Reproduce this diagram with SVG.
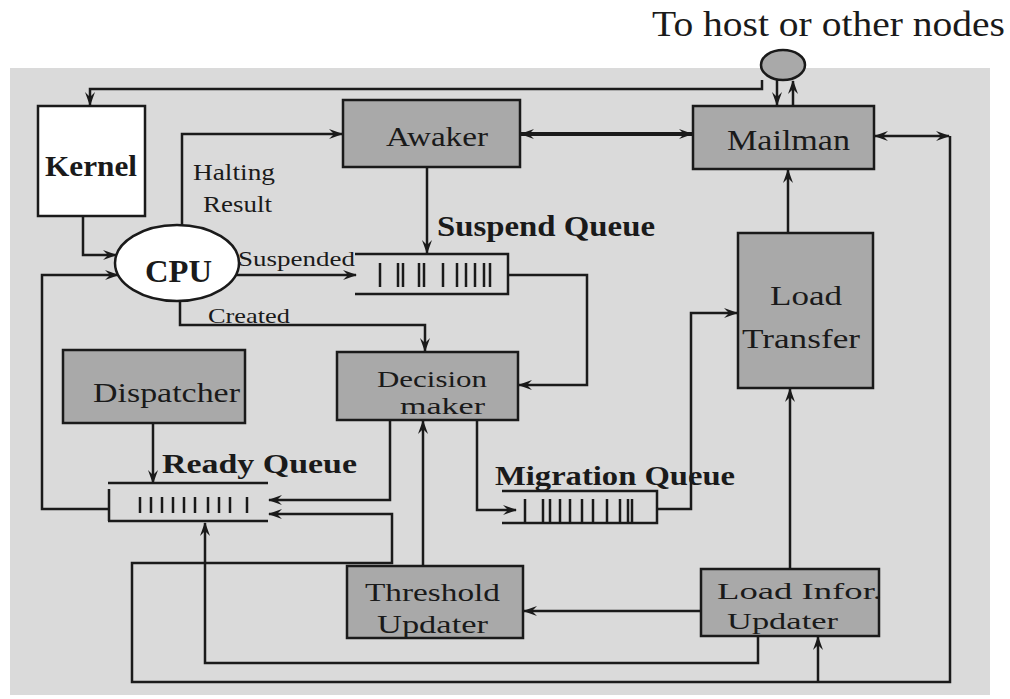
<svg xmlns="http://www.w3.org/2000/svg" width="1010" height="699" viewBox="0 0 1010 699">
<style>
text{font-family:"Liberation Serif","Times New Roman",serif;fill:#1a1a1a}
.lbl{font-size:28px}
.b{font-weight:bold}
.box{fill:#a9a9a9;stroke:#1a1a1a;stroke-width:2.5}
.wbox{fill:#ffffff;stroke:#1a1a1a;stroke-width:2.5}
.ln{fill:none;stroke:#1a1a1a;stroke-width:2.5}
.thick{fill:none;stroke:#1a1a1a;stroke-width:4}
.bar{stroke:#1a1a1a;stroke-width:2.5}
</style>
<defs>
<marker id="ah" viewBox="0 0 14 10" refX="13" refY="5" markerUnits="userSpaceOnUse" markerWidth="14" markerHeight="10" orient="auto-start-reverse">
<path d="M0,0 L14,5 L0,10 L5,5 Z" fill="#1a1a1a"/>
</marker>
</defs>
<rect x="0" y="0" width="1010" height="699" fill="#ffffff"/>
<rect x="10" y="68" width="980" height="627" fill="#dadada"/>
<text x="652" y="36" font-size="36" textLength="353" lengthAdjust="spacingAndGlyphs">To host or other nodes</text>

<g id="connectors">
<path class="ln" d="M762,80 V89 H90 V105" marker-end="url(#ah)"/>
<path class="ln" d="M777,80 V105" marker-end="url(#ah)"/>
<path class="ln" d="M793,106 V81" marker-end="url(#ah)"/>
<path class="thick" d="M521,134 H692" marker-start="url(#ah)" marker-end="url(#ah)"/>
<path class="ln" d="M875,136 H949" marker-start="url(#ah)" marker-end="url(#ah)"/>
<path class="ln" d="M950,136 V682 H132 V563 H392 V514 H269" marker-end="url(#ah)"/>
<path class="ln" d="M818,682 V637" marker-end="url(#ah)"/>
<path class="ln" d="M182,225 V134 H342" marker-end="url(#ah)"/>
<path class="ln" d="M83,216 V255 H116" marker-end="url(#ah)"/>
<path class="ln" d="M110,509 H42 V275 H118" marker-end="url(#ah)"/>
<path class="ln" d="M236,275 H356" marker-end="url(#ah)"/>
<path class="ln" d="M427,167 V253" marker-end="url(#ah)"/>
<path class="ln" d="M508,275 H587 V385 H519" marker-end="url(#ah)"/>
<path class="ln" d="M180,301 V325 H425 V351" marker-end="url(#ah)"/>
<path class="ln" d="M153,423 V483" marker-end="url(#ah)"/>
<path class="ln" d="M390,420 V500 H269" marker-end="url(#ah)"/>
<path class="ln" d="M477,420 V510 H516" marker-end="url(#ah)"/>
<path class="ln" d="M657,509 H691 V313 H737" marker-end="url(#ah)"/>
<path class="ln" d="M788,233 V170" marker-end="url(#ah)"/>
<path class="ln" d="M790,569 V389" marker-end="url(#ah)"/>
<path class="ln" d="M701,611 H524" marker-end="url(#ah)"/>
<path class="ln" d="M423,566 V421" marker-end="url(#ah)"/>
<path class="ln" d="M758,636 V663 H205 V523" marker-end="url(#ah)"/>
</g>

<g id="net">
<ellipse cx="783" cy="65" rx="22" ry="15" class="box"/>
</g>

<g id="kernel">
<rect x="38" y="106" width="107" height="110" class="wbox"/>
<text x="45" y="176" font-size="30" class="b" textLength="92" lengthAdjust="spacingAndGlyphs">Kernel</text>
</g>

<g id="cpu">
<ellipse cx="177" cy="263" rx="62" ry="38" class="wbox"/>
<text x="145" y="282" font-size="32" class="b" textLength="67" lengthAdjust="spacingAndGlyphs">CPU</text>
</g>

<g id="labels">
<text x="193" y="180" font-size="23" textLength="82" lengthAdjust="spacingAndGlyphs">Halting</text>
<text x="203" y="212" font-size="23" textLength="69" lengthAdjust="spacingAndGlyphs">Result</text>
<text x="238" y="266" font-size="21" textLength="117" lengthAdjust="spacingAndGlyphs">Suspended</text>
<text x="208" y="323" font-size="22" textLength="82" lengthAdjust="spacingAndGlyphs">Created</text>
</g>

<g id="awaker">
<rect x="343" y="100" width="177" height="67" class="box"/>
<text x="386" y="146" class="lbl" textLength="102" lengthAdjust="spacingAndGlyphs">Awaker</text>
</g>

<g id="mailman">
<rect x="693" y="106" width="181" height="63" class="box"/>
<text x="727" y="150" font-size="30" textLength="123" lengthAdjust="spacingAndGlyphs">Mailman</text>
</g>

<g id="suspend-queue">
<path class="ln" d="M355,254 H508 V294 H355"/>
<g class="bar">
<line x1="380" y1="263" x2="380" y2="287"/>
<line x1="398" y1="263" x2="398" y2="287"/>
<line x1="403" y1="263" x2="403" y2="287"/>
<line x1="419" y1="263" x2="419" y2="287"/>
<line x1="424" y1="263" x2="424" y2="287"/>
<line x1="443" y1="263" x2="443" y2="287"/>
<line x1="457" y1="263" x2="457" y2="287"/>
<line x1="466" y1="263" x2="466" y2="287"/>
<line x1="475" y1="263" x2="475" y2="287"/>
<line x1="484" y1="263" x2="484" y2="287"/>
<line x1="490" y1="263" x2="490" y2="287"/>
</g>
<text x="437" y="236" font-size="29" class="b" textLength="218" lengthAdjust="spacingAndGlyphs">Suspend  Queue</text>
</g>

<g id="decision-maker">
<rect x="337" y="352" width="181" height="68" class="box"/>
<text x="377" y="387" font-size="24" textLength="110" lengthAdjust="spacingAndGlyphs">Decision</text>
<text x="400" y="414" font-size="24" textLength="85" lengthAdjust="spacingAndGlyphs">maker</text>
</g>

<g id="dispatcher">
<rect x="63" y="350" width="182" height="73" class="box"/>
<text x="93" y="402" class="lbl" textLength="147" lengthAdjust="spacingAndGlyphs">Dispatcher</text>
</g>

<g id="ready-queue">
<path class="ln" d="M108,483 H268 M109,489 V521 M108,521 H268"/>
<g class="bar">
<line x1="140" y1="497" x2="140" y2="513"/>
<line x1="151" y1="497" x2="151" y2="513"/>
<line x1="162" y1="497" x2="162" y2="513"/>
<line x1="173" y1="497" x2="173" y2="513"/>
<line x1="184" y1="497" x2="184" y2="513"/>
<line x1="195" y1="497" x2="195" y2="513"/>
<line x1="208" y1="497" x2="208" y2="513"/>
<line x1="219" y1="497" x2="219" y2="513"/>
<line x1="230" y1="497" x2="230" y2="513"/>
<line x1="247" y1="497" x2="247" y2="513"/>
</g>
<text x="162" y="473" font-size="28" class="b" textLength="195" lengthAdjust="spacingAndGlyphs">Ready  Queue</text>
</g>

<g id="migration-queue">
<path class="ln" d="M502,491 H657 V523 H502"/>
<g class="bar">
<line x1="525" y1="499" x2="525" y2="522"/>
<line x1="543" y1="499" x2="543" y2="522"/>
<line x1="550" y1="499" x2="550" y2="522"/>
<line x1="560" y1="499" x2="560" y2="522"/>
<line x1="570" y1="499" x2="570" y2="522"/>
<line x1="582" y1="499" x2="582" y2="522"/>
<line x1="593" y1="499" x2="593" y2="522"/>
<line x1="607" y1="499" x2="607" y2="522"/>
<line x1="620" y1="499" x2="620" y2="522"/>
<line x1="628" y1="499" x2="628" y2="522"/>
<line x1="632" y1="499" x2="632" y2="522"/>
</g>
<text x="495" y="485" font-size="28" class="b" textLength="240" lengthAdjust="spacingAndGlyphs">Migration Queue</text>
</g>

<g id="load-transfer">
<rect x="738" y="233" width="135" height="155" class="box"/>
<text x="770" y="305" class="lbl" textLength="72" lengthAdjust="spacingAndGlyphs">Load</text>
<text x="742" y="348" class="lbl" textLength="118" lengthAdjust="spacingAndGlyphs">Transfer</text>
</g>

<g id="threshold-updater">
<rect x="347" y="566" width="176" height="72" class="box"/>
<text x="365" y="601" font-size="26" textLength="135" lengthAdjust="spacingAndGlyphs">Threshold</text>
<text x="377" y="633" font-size="26" textLength="111" lengthAdjust="spacingAndGlyphs">Updater</text>
</g>

<g id="load-infor-updater">
<rect x="701" y="569" width="178" height="67" class="box"/>
<text x="717" y="599" font-size="24" textLength="165" lengthAdjust="spacingAndGlyphs">Load  Infor.</text>
<text x="727" y="629" font-size="24" textLength="111" lengthAdjust="spacingAndGlyphs">Updater</text>
</g>
</svg>
